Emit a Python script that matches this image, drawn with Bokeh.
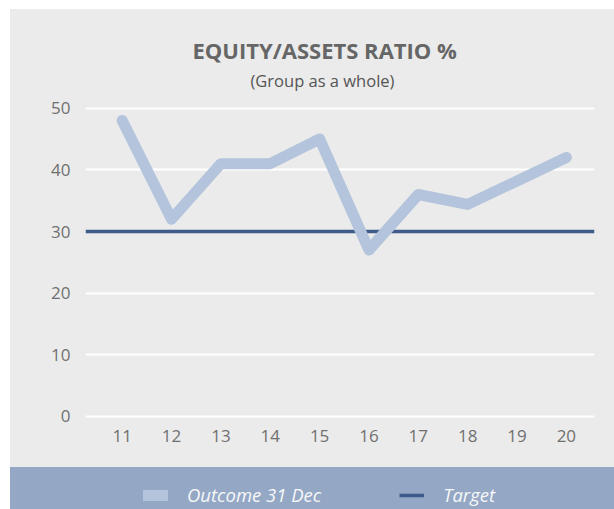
from bokeh.plotting import figure
from bokeh.models import Title, Range1d, FixedTicker, Legend
from bokeh.layouts import column
from bokeh.embed import file_html
from bokeh.resources import INLINE

years = [11, 12, 13, 14, 15, 16, 17, 18, 19, 20]
outcome = [48, 32, 41, 41, 45, 27, 36, 34.4, 38.2, 42]
target = [30, 30]
target_x = [10.256, 20.57]
y_ticks = [0, 10, 20, 30, 40, 50]

FONT = "Open Sans"
BG = "#ebebeb"
BAND = "#94a8c6"
PALE = "#b3c4dc"
DARK = "#3f5b8b"

p = figure(width=604, height=458, output_backend="svg", toolbar_location=None,
           x_range=Range1d(10.256, 20.57), y_range=Range1d(-0.65, 52.38),
           min_border_left=75, min_border_right=20, min_border_top=84, min_border_bottom=47,
           styles={"background-color": BG})
p.background_fill_color = BG
p.border_fill_color = None
p.outline_line_color = None

p.line(target_x, target, line_color=DARK, line_width=3.5)
p.line(years, outcome, line_color=PALE, line_width=11, line_cap="round", line_join="round")

p.xgrid.visible = False
p.ygrid.grid_line_color = "white"
p.ygrid.grid_line_width = 2
p.yaxis.ticker = FixedTicker(ticks=y_ticks)
p.xaxis.ticker = FixedTicker(ticks=years)
for ax in (p.xaxis, p.yaxis):
    ax.axis_line_color = None
    ax.major_tick_line_color = None
    ax.minor_tick_line_color = None
    ax.major_label_text_font = FONT
    ax.major_label_text_color = "#707070"
    ax.major_label_text_font_size = "17px"
p.yaxis.major_label_standoff = 9
p.xaxis.major_label_standoff = 3

p.add_layout(Title(text="(Group as a whole)", align="left", text_font=FONT,
                   text_font_size="16.5px", text_font_style="normal",
                   text_color="#555555", offset=165, standoff=4), "above")
p.add_layout(Title(text="EQUITY/ASSETS RATIO %", align="left", text_font=FONT,
                   text_font_size="22px", text_font_style="bold",
                   text_color="#666666", offset=107, standoff=0), "above")

lf = figure(width=604, height=42, output_backend="svg", toolbar_location=None,
            min_border=0, x_range=Range1d(0, 1), y_range=Range1d(0, 1),
            x_axis_location=None, y_axis_location=None,
            styles={"background-color": BAND})
lf.background_fill_color = None
lf.border_fill_color = None
lf.outline_line_color = None
lf.grid.visible = False
nan = float("nan")
r1 = lf.line(x=[nan, nan], y=[nan, nan], line_color=PALE, line_width=11, line_cap="round")
r2 = lf.line(x=[nan, nan], y=[nan, nan], line_color=DARK, line_width=3.5)
leg = Legend(items=[("Outcome 31 Dec", [r1]), ("Target", [r2])],
             orientation="horizontal", location=(58, 2),
             background_fill_alpha=0, border_line_color=None,
             label_text_font=FONT, label_text_font_style="italic",
             label_text_font_size="18.5px", label_text_color="#f7f7f7",
             glyph_width=25, label_standoff=19, spacing=78, padding=3, margin=0)
lf.add_layout(leg, "center")

layout = column(p, lf, spacing=0, margin=(9, 0, 0, 10))
open("out.html", "w").write(file_html(layout, INLINE))
